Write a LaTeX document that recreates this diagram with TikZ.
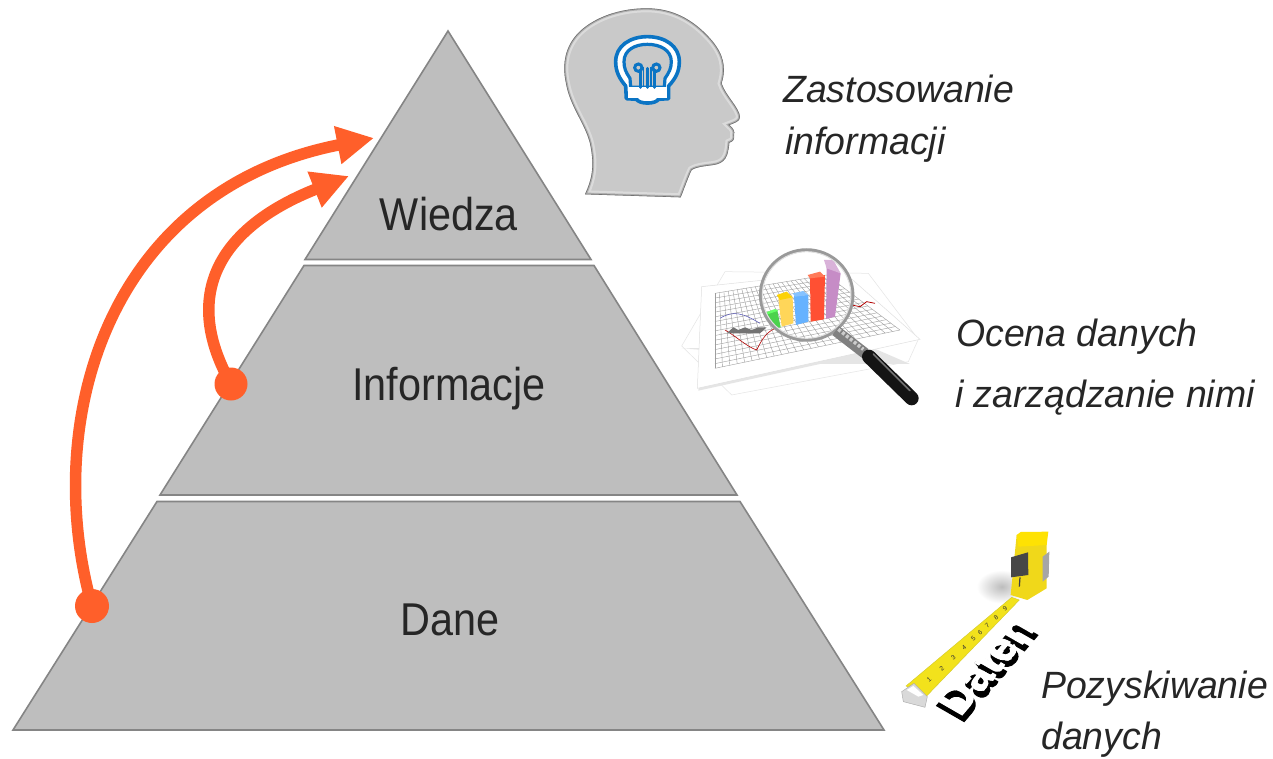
\documentclass[tikz,border=0pt]{standalone}
\usepackage{fontspec}
\setmainfont{Liberation Sans}
\newfontfamily\narrowface[FakeStretch=0.9]{Liberation Sans}
\newfontfamily\narrowit[FakeStretch=0.985]{Liberation Sans Italic}
\newfontfamily\wordface[FakeBold=2.5]{Liberation Sans Bold}
\usetikzlibrary{arrows.meta,shadings}
\definecolor{pyr}{HTML}{BEBEBE}
\definecolor{pyredge}{HTML}{858585}
\definecolor{arrowor}{HTML}{FF5F2A}
\definecolor{bulbblue}{HTML}{0B74C4}
\definecolor{headgray}{HTML}{C9C9C9}
\definecolor{tapey}{HTML}{F2E21C}
\definecolor{casey}{HTML}{F0D81A}
\tikzset{
  level/.style={fill=pyr,draw=pyredge,line width=1.6pt,line join=miter},
  levellabel/.style={font=\narrowface\fontsize{46}{46}\selectfont,text=black!85,inner sep=0pt,anchor=base},
  sidelabel/.style={font=\narrowit\fontsize{38}{38}\selectfont,text=black!85,inner sep=0pt,anchor=base west},
  riser/.style={draw=arrowor,line width=11.5pt,-{Triangle[length=37pt,width=36pt]}},
  startdot/.style={circle,fill=arrowor,inner sep=0pt,minimum size=#1},
  gridline/.style={draw=black!38,line width=.4pt},
  tapeword/.style={font=\wordface\fontsize{20}{20}\selectfont,inner sep=0pt,cm={1.39,1.63,-2.0,1.15,(0,0)}},
}
\def\headpath{(105,583) .. controls (125,540) and (135,500) .. (120,430) .. controls (105,370) and (60,320) .. (48,250) .. controls (35,190) and (45,130) .. (100,85) .. controls (150,45) and (220,25) .. (290,25) .. controls (370,25) and (430,60) .. (480,115) .. controls (520,160) and (530,200) .. (515,250) .. controls (525,285) and (570,325) .. (570,352) .. controls (570,365) and (550,370) .. (538,375) .. controls (550,385) and (556,395) .. (552,405) .. controls (555,415) and (550,425) .. (538,428) .. controls (535,470) and (525,490) .. (490,495) .. controls (470,498) and (440,500) .. (425,510) .. controls (415,530) and (405,560) .. (392,592) -- cycle}
\def\bulbouter{(229,296) -- (227,258) .. controls (208,235) and (197,215) .. (197,185) .. controls (197,138) and (240,110) .. (292,110) .. controls (345,110) and (388,138) .. (388,185) .. controls (388,215) and (377,235) .. (356,258) -- (356,296) -- (325,298) .. controls (318,313) and (267,313) .. (260,298) -- cycle}
\def\bulbinner{(242,262) -- (240,235) .. controls (228,218) and (222,205) .. (222,185) .. controls (222,150) and (255,133) .. (292,133) .. controls (330,133) and (364,150) .. (364,185) .. controls (364,205) and (357,218) .. (345,235) -- (343,262) -- cycle}
\begin{document}
\begin{tikzpicture}[x=1pt,y=-1pt]
\useasboundingbox (0,0) rectangle (1273,759);
\fill[white] (0,0) rectangle (1273,759);

% pyramid
\filldraw[level] (448,31) -- (591,259.5) -- (305,259.5) -- cycle;
\filldraw[level] (304,265.5) -- (594,265.5) -- (737,495) -- (160,495) -- cycle;
\filldraw[level] (157,501.5) -- (740,501.5) -- (884,730) -- (13,730) -- cycle;
\node[levellabel] (wiedza) at (449,230) {Wiedza};
\node[levellabel] (informacje) at (449,400) {Informacje};
\node[levellabel] (dane) at (450,635) {Dane};

% risers
\node[startdot=34pt] (startdane) at (92,606) {};
\node[startdot=33pt] (startinfo) at (231,384) {};
\coordinate (tipouter) at (374,138);
\coordinate (tipinner) at (349,176);
\draw[riser] (startdane.center) .. controls (40,420) and (108,190) .. (tipouter);
\draw[riser] (startinfo.center) .. controls (178,290) and (225,225) .. (tipinner);

% head
\begin{scope}[shift={(550,0)},x=0.3333pt,y=-0.3333pt]
  \fill[headgray] \headpath;
  \begin{scope}
    \clip \headpath;
    \draw[white,line width=8pt,opacity=.35] \headpath;
    \draw[black!45,line width=3.5pt,opacity=.55] \headpath;
    \draw[black!55,line width=1.2pt] \headpath;
  \end{scope}
  \filldraw[fill=white,draw=bulbblue,line width=3.6pt,line join=round] \bulbouter;
  \filldraw[fill=headgray,draw=bulbblue,line width=3.2pt,line join=round] \bulbinner;
  \fill[white] (233,262) rectangle (352,293);
  \draw[bulbblue,line width=3pt,line cap=round]
    (270,262) -- (270,210) (292,262) -- (292,205) (314,262) -- (314,210);
  \draw[bulbblue,line width=3pt] (265,203) circle (11) (319,203) circle (11);
  \draw[bulbblue,line width=1.6pt] (281,262) -- (281,200) (303,262) -- (303,200);
\end{scope}

% chart under a magnifier
\begin{scope}[shift={(670,240)},x=0.3333pt,y=-0.3333pt]
  \fill[white,draw=black!10,line width=.5pt] (35,318) -- (165,95) -- (595,100) -- (745,298) -- (715,365) -- (185,465) -- cycle;
  \fill[black!10] (35,325) -- (100,330) -- (85,452) -- (450,372) -- (720,372) -- (600,320) -- cycle;
  \fill[white,draw=black!12,line width=.5pt] (95,140) -- (520,95) -- (750,298) -- (82,445) -- cycle;
  \foreach \t in {0,0.04,...,1.001} {
    \draw[gridline] ({135+\t*(690-135)},{385+\t*(270-385)}) -- ({135+\t*(470-135)},{160+\t*(105-160)});
  }
  \foreach \t in {0,0.0625,...,1.001} {
    \draw[gridline] (135,{160+\t*225}) -- ({470+\t*220},{105+\t*165});
  }
  \draw[red!70!black,line width=.6pt] (165,270) .. controls (200,290) and (230,320) .. (260,330) .. controls (275,300) and (290,270) .. (330,260);
  \draw[blue!40!gray,line width=.5pt] (150,235) .. controls (190,210) and (220,220) .. (270,250);
  \fill[black!55] (170,280) -- (190,262) -- (205,270) -- (225,262) -- (245,270) -- (265,262) -- (290,262) -- (270,280) -- cycle;
  \draw[red!70!black,line width=.8pt] (520,215) -- (545,195) -- (570,200) -- (590,185) -- (615,190);
  % lens
  \begin{scope}
    \clip (410,165) ellipse (136 and 133);
    \fill[white] (410,165) ellipse (136 and 133);
    \foreach \t in {0,0.04,...,1.001} {
      \draw[gridline] ({135+\t*(690-135)},{385+\t*(270-385)}) -- ({135+\t*(470-135)},{160+\t*(105-160)});
    }
    \foreach \t in {0,0.0625,...,1.001} {
      \draw[gridline] (135,{160+\t*225}) -- ({470+\t*220},{105+\t*165});
    }
    % bars
    \fill[green!75!black!70] (285,218) -- (322,212) -- (332,262) -- (292,268) -- cycle;
    \fill[green!60] (285,218) -- (315,207) -- (325,212) -- (295,222) -- cycle;
    \fill[orange!50!yellow!65] (325,175) -- (368,172) -- (370,250) -- (335,260) -- cycle;
    \fill[yellow!70!orange] (320,165) -- (350,155) -- (368,172) -- (330,180) -- cycle;
    \fill[blue!50!cyan!60] (372,168) -- (415,165) -- (415,245) -- (378,255) -- cycle;
    \fill[blue!50!cyan!48] (368,160) -- (400,153) -- (415,165) -- (375,170) -- cycle;
    \fill[red!72!orange!80] (420,110) -- (465,105) -- (462,238) -- (422,245) -- cycle;
    \fill[red!60!orange!65] (413,105) -- (450,95) -- (465,110) -- (420,115) -- cycle;
    \fill[violet!45!white] (470,80) -- (512,100) -- (495,230) -- (468,237) -- cycle;
    \fill[violet!30!white] (462,60) -- (490,60) -- (512,100) -- (470,85) -- cycle;
  \end{scope}
  \draw[black!40,line width=3.5pt] (410,165) ellipse (138 and 135);
  \draw[black!12,line width=1pt] (410,165) ellipse (133 and 130);
  % handle
  \draw[black!50,line width=11pt] (497,272) -- (585,340);
  \draw[black!20,line width=3.5pt,dash pattern=on 3pt off 2pt] (505,268) -- (580,328);
  \draw[black!92,line width=14pt,line cap=round] (597,350) -- (725,475);
  \draw[black!55,line width=1.6pt,line cap=round] (610,342) -- (720,452);
\end{scope}

% tape measure
\begin{scope}[shift={(890,520)},x=0.3333pt,y=-0.3333pt]
  \shade[inner color=black!26,outer color=white] (335,200) ellipse (75 and 50);
  % case
  \fill[casey] (362,225) -- (380,45) -- (470,38) -- (470,205) -- (412,240) -- cycle;
  \fill[yellow!85!orange] (380,45) -- (392,36) -- (475,35) -- (470,75) -- (385,80) -- cycle;
  \fill[black!72] (363,112) -- (414,97) -- (415,165) -- (363,172) -- cycle;
  \draw[black!75,line width=1.2pt] (390,172) -- (388,200);
  \fill[black!35] (458,110) -- (478,95) -- (476,170) -- (458,185) -- cycle;
  % tape
  \fill[tapey,draw=yellow!80!black,line width=.4pt] (48,498) -- (365,232) -- (388,240) -- (108,530) -- cycle;
  \foreach \p/\n in {117/1,155/2,190/3,222/4,250/5,270/6,292/7,318/8,345/9} {
    \pgfmathsetmacro\yy{515-(\p-80)*0.936}
    \node[font=\fontsize{6.5}{6.5}\selectfont,rotate=40,inner sep=0pt,text=black!80] (mark\n) at (\p,\yy) {\n};
  }
  \fill[black!15,draw=black!35,line width=.4pt] (35,515) -- (72,490) -- (112,530) -- (105,562) -- (40,545) -- cycle;
  \fill[white] (50,510) -- (70,498) -- (100,525) -- (85,530) -- cycle;
  % word standing on the tape
  \node[tapeword,text=black] (datenback) at (292,452) {Daten};
  \node[tapeword,text=white] (datenfront) at (286,432) {Daten};
\end{scope}

% side labels
\node[sidelabel] (l1a) at (783,103) {Zastosowanie};
\node[sidelabel] (l1b) at (785,155) {informacji};
\node[sidelabel] (l2a) at (956,346) {Ocena danych};
\node[sidelabel] (l2b) at (955,407) {i zarządzanie nimi};
\node[sidelabel] (l3a) at (1041,698) {Pozyskiwanie};
\node[sidelabel] (l3b) at (1041,749) {danych};
\end{tikzpicture}
\end{document}
